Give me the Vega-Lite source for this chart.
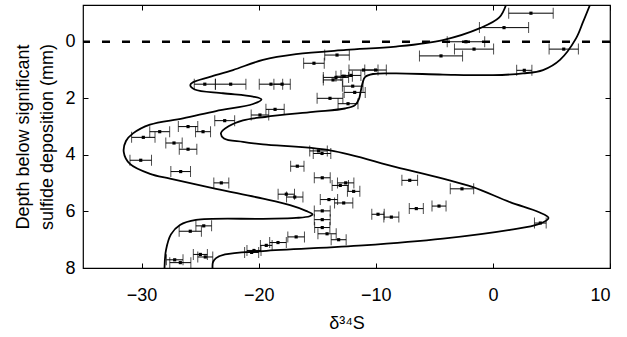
{
  "$schema": "https://vega.github.io/schema/vega-lite/v6.json",
  "width": 527,
  "height": 263,
  "autosize": "none",
  "padding": {"left": 83, "top": 5, "right": 17, "bottom": 69},
  "background": "white",
  "config": {
    "view": {"stroke": "black", "strokeWidth": 1.2},
    "font": "Liberation Sans",
    "axis": {"grid": false, "domain": false, "tickColor": "black", "tickWidth": 1, "labelColor": "black", "titleColor": "black", "labelFont": "Liberation Sans", "titleFont": "Liberation Sans", "labelFontSize": 18, "titleFontSize": 18, "titleFontWeight": "normal"}
  },
  "datasets": {
    "env": [
      {"c": "a", "o": 1, "x": 1.12, "y": -1.3},
      {"c": "a", "o": 2, "x": 0.55, "y": -0.86},
      {"c": "a", "o": 3, "x": -1.10, "y": -0.48},
      {"c": "a", "o": 4, "x": -4.26, "y": -0.06},
      {"c": "a", "o": 5, "x": -8.27, "y": 0.17},
      {"c": "a", "o": 6, "x": -12.54, "y": 0.29},
      {"c": "a", "o": 7, "x": -16.81, "y": 0.44},
      {"c": "a", "o": 8, "x": -19.63, "y": 0.64},
      {"c": "a", "o": 9, "x": -22.19, "y": 1.0},
      {"c": "a", "o": 10, "x": -24.16, "y": 1.24},
      {"c": "a", "o": 11, "x": -25.61, "y": 1.43},
      {"c": "a", "o": 12, "x": -25.84, "y": 1.53},
      {"c": "a", "o": 13, "x": -25.46, "y": 1.69},
      {"c": "a", "o": 14, "x": -23.05, "y": 1.82},
      {"c": "a", "o": 15, "x": -20.48, "y": 1.94},
      {"c": "a", "o": 16, "x": -19.76, "y": 2.04},
      {"c": "a", "o": 17, "x": -20.48, "y": 2.20},
      {"c": "a", "o": 18, "x": -23.64, "y": 2.45},
      {"c": "a", "o": 19, "x": -26.46, "y": 2.71},
      {"c": "a", "o": 20, "x": -29.28, "y": 2.93},
      {"c": "a", "o": 21, "x": -30.73, "y": 3.24},
      {"c": "a", "o": 22, "x": -31.33, "y": 3.51},
      {"c": "a", "o": 23, "x": -31.52, "y": 3.90},
      {"c": "a", "o": 24, "x": -30.99, "y": 4.32},
      {"c": "a", "o": 25, "x": -29.28, "y": 4.67},
      {"c": "a", "o": 26, "x": -27.57, "y": 4.84},
      {"c": "a", "o": 27, "x": -23.64, "y": 5.20},
      {"c": "a", "o": 28, "x": -19.63, "y": 5.55},
      {"c": "a", "o": 29, "x": -17.32, "y": 5.78},
      {"c": "a", "o": 30, "x": -15.96, "y": 5.98},
      {"c": "a", "o": 31, "x": -15.4, "y": 6.10},
      {"c": "a", "o": 32, "x": -15.64, "y": 6.17},
      {"c": "a", "o": 33, "x": -16.81, "y": 6.23},
      {"c": "a", "o": 34, "x": -19.63, "y": 6.26},
      {"c": "a", "o": 35, "x": -25.35, "y": 6.30},
      {"c": "a", "o": 36, "x": -26.72, "y": 6.48},
      {"c": "a", "o": 37, "x": -27.49, "y": 6.81},
      {"c": "a", "o": 38, "x": -27.91, "y": 7.36},
      {"c": "a", "o": 39, "x": -28.04, "y": 8.0},
      {"c": "b", "o": 1, "x": 8.29, "y": -1.3},
      {"c": "b", "o": 2, "x": 7.70, "y": -0.70},
      {"c": "b", "o": 3, "x": 7.10, "y": -0.12},
      {"c": "b", "o": 4, "x": 5.73, "y": 0.64},
      {"c": "b", "o": 5, "x": 4.28, "y": 1.0},
      {"c": "b", "o": 6, "x": 2.57, "y": 1.12},
      {"c": "b", "o": 7, "x": 0.01, "y": 1.18},
      {"c": "b", "o": 8, "x": -4.26, "y": 1.16},
      {"c": "b", "o": 9, "x": -8.27, "y": 1.12},
      {"c": "b", "o": 10, "x": -10.24, "y": 1.14},
      {"c": "b", "o": 11, "x": -10.92, "y": 1.25},
      {"c": "b", "o": 12, "x": -11.13, "y": 1.46},
      {"c": "b", "o": 13, "x": -11.3, "y": 1.78},
      {"c": "b", "o": 14, "x": -11.43, "y": 2.02},
      {"c": "b", "o": 15, "x": -11.77, "y": 2.24},
      {"c": "b", "o": 16, "x": -12.63, "y": 2.36},
      {"c": "b", "o": 17, "x": -15.36, "y": 2.48},
      {"c": "b", "o": 18, "x": -19.46, "y": 2.66},
      {"c": "b", "o": 19, "x": -21.34, "y": 2.78},
      {"c": "b", "o": 20, "x": -22.53, "y": 2.98},
      {"c": "b", "o": 21, "x": -23.22, "y": 3.23},
      {"c": "b", "o": 22, "x": -22.96, "y": 3.42},
      {"c": "b", "o": 23, "x": -21.34, "y": 3.54},
      {"c": "b", "o": 24, "x": -19.63, "y": 3.63},
      {"c": "b", "o": 25, "x": -13.91, "y": 3.84},
      {"c": "b", "o": 26, "x": -8.27, "y": 4.43},
      {"c": "b", "o": 27, "x": -4.26, "y": 4.84},
      {"c": "b", "o": 28, "x": -1.70, "y": 5.14},
      {"c": "b", "o": 29, "x": 1.46, "y": 5.67},
      {"c": "b", "o": 30, "x": 3.9, "y": 6.02},
      {"c": "b", "o": 31, "x": 4.75, "y": 6.23},
      {"c": "b", "o": 32, "x": 3.9, "y": 6.45},
      {"c": "b", "o": 33, "x": 1.46, "y": 6.65},
      {"c": "b", "o": 34, "x": -4.26, "y": 6.96},
      {"c": "b", "o": 35, "x": -11.09, "y": 7.20},
      {"c": "b", "o": 36, "x": -19.63, "y": 7.40},
      {"c": "b", "o": 37, "x": -22.87, "y": 7.52},
      {"c": "b", "o": 38, "x": -23.64, "y": 7.65},
      {"c": "b", "o": 39, "x": -23.9, "y": 7.79},
      {"c": "b", "o": 40, "x": -23.94, "y": 8.0}
    ],
    "pts": [
      {"x": 3.25, "lo": 1.35, "hi": 5.15, "y": -1.01},
      {"x": 0.95, "lo": -1.15, "hi": 3.05, "y": -0.50},
      {"x": -2.3, "lo": -3.9, "hi": -0.7, "y": 0.0},
      {"x": -1.61, "lo": -3.28, "hi": 0.06, "y": 0.26},
      {"x": -4.43, "lo": -6.27, "hi": -2.59, "y": 0.50},
      {"x": 6.05, "lo": 4.8, "hi": 7.3, "y": 0.26},
      {"x": 2.68, "lo": 2.03, "hi": 3.33, "y": 1.01},
      {"x": -13.31, "lo": -14.36, "hi": -12.26, "y": 0.47},
      {"x": -15.28, "lo": -16.16, "hi": -14.4, "y": 0.76},
      {"x": -11.05, "lo": -12.29, "hi": -9.81, "y": 1.0},
      {"x": -10.02, "lo": -10.94, "hi": -9.1, "y": 1.0},
      {"x": -12.12, "lo": -12.97, "hi": -11.27, "y": 1.19},
      {"x": -13.4, "lo": -14.48, "hi": -12.32, "y": 1.26},
      {"x": -13.65, "lo": -14.48, "hi": -12.82, "y": 1.35},
      {"x": -12.7, "lo": -13.4, "hi": -12.0, "y": 1.22},
      {"x": -11.97, "lo": -12.85, "hi": -11.09, "y": 1.57},
      {"x": -11.8, "lo": -12.7, "hi": -10.9, "y": 1.79},
      {"x": -13.91, "lo": -15.01, "hi": -12.81, "y": 2.0},
      {"x": -12.37, "lo": -13.22, "hi": -11.52, "y": 2.19},
      {"x": -24.6, "lo": -25.5, "hi": -23.7, "y": 1.50},
      {"x": -22.39, "lo": -23.69, "hi": -21.09, "y": 1.50},
      {"x": -18.95, "lo": -19.95, "hi": -17.95, "y": 1.50},
      {"x": -18.0, "lo": -18.7, "hi": -17.3, "y": 1.50},
      {"x": -22.9, "lo": -23.75, "hi": -22.05, "y": 2.79},
      {"x": -26.03, "lo": -26.86, "hi": -25.2, "y": 3.0},
      {"x": -24.75, "lo": -25.39, "hi": -24.11, "y": 3.18},
      {"x": -28.45, "lo": -29.3, "hi": -27.6, "y": 3.18},
      {"x": -19.89, "lo": -20.64, "hi": -19.14, "y": 2.59},
      {"x": -18.6, "lo": -19.38, "hi": -17.82, "y": 2.39},
      {"x": -29.85, "lo": -30.85, "hi": -28.85, "y": 3.38},
      {"x": -27.23, "lo": -27.93, "hi": -26.53, "y": 3.58},
      {"x": -26.03, "lo": -26.78, "hi": -25.28, "y": 3.80},
      {"x": -30.07, "lo": -30.99, "hi": -29.15, "y": 4.19},
      {"x": -26.66, "lo": -27.5, "hi": -25.82, "y": 4.59},
      {"x": -23.19, "lo": -23.83, "hi": -22.55, "y": 4.99},
      {"x": -25.84, "lo": -26.79, "hi": -24.89, "y": 6.70},
      {"x": -24.69, "lo": -25.36, "hi": -24.02, "y": 6.51},
      {"x": -27.17, "lo": -27.88, "hi": -26.46, "y": 7.71},
      {"x": -26.69, "lo": -27.59, "hi": -25.79, "y": 7.81},
      {"x": -24.98, "lo": -25.58, "hi": -24.38, "y": 7.52},
      {"x": -24.56, "lo": -25.2, "hi": -23.92, "y": 7.61},
      {"x": -20.4, "lo": -21.0, "hi": -19.8, "y": 7.38},
      {"x": -20.6, "lo": -21.2, "hi": -20.0, "y": 7.45},
      {"x": -14.89, "lo": -15.64, "hi": -14.14, "y": 3.86},
      {"x": -14.59, "lo": -15.34, "hi": -13.84, "y": 3.95},
      {"x": -16.7, "lo": -17.27, "hi": -16.13, "y": 4.40},
      {"x": -14.57, "lo": -15.25, "hi": -13.89, "y": 4.81},
      {"x": -13.03, "lo": -13.73, "hi": -12.33, "y": 5.08},
      {"x": -12.57, "lo": -13.27, "hi": -11.87, "y": 4.99},
      {"x": -11.89, "lo": -12.42, "hi": -11.36, "y": 5.29},
      {"x": -17.64, "lo": -18.34, "hi": -16.94, "y": 5.39},
      {"x": -16.92, "lo": -17.62, "hi": -16.22, "y": 5.49},
      {"x": -14.0, "lo": -14.74, "hi": -13.26, "y": 5.58},
      {"x": -12.74, "lo": -13.52, "hi": -11.96, "y": 5.70},
      {"x": -14.57, "lo": -15.25, "hi": -13.89, "y": 5.98},
      {"x": -14.57, "lo": -15.25, "hi": -13.89, "y": 6.29},
      {"x": -14.57, "lo": -15.22, "hi": -13.92, "y": 6.57},
      {"x": -14.16, "lo": -14.94, "hi": -13.38, "y": 6.79},
      {"x": -13.17, "lo": -13.81, "hi": -12.53, "y": 7.0},
      {"x": -16.8, "lo": -17.51, "hi": -16.09, "y": 6.90},
      {"x": -18.35, "lo": -19.06, "hi": -17.64, "y": 7.10},
      {"x": -19.35, "lo": -19.85, "hi": -18.85, "y": 7.20},
      {"x": -9.81, "lo": -10.34, "hi": -9.28, "y": 6.10},
      {"x": -8.67, "lo": -9.31, "hi": -8.03, "y": 6.20},
      {"x": -6.54, "lo": -7.14, "hi": -5.94, "y": 5.90},
      {"x": -4.6, "lo": -5.2, "hi": -4.0, "y": 5.81},
      {"x": -7.1, "lo": -7.77, "hi": -6.43, "y": 4.90},
      {"x": -2.64, "lo": -3.64, "hi": -1.64, "y": 5.20},
      {"x": 4.05, "lo": 3.55, "hi": 4.55, "y": 6.41}
    ]
  },
  "layer": [
    {
      "data": {"name": "env"},
      "mark": {"type": "line", "interpolate": "catmull-rom", "color": "black", "strokeWidth": 1.8, "clip": true},
      "encoding": {
        "x": {"field": "x", "type": "quantitative", "scale": {"domain": [-35, 10], "nice": false, "zero": false},
              "axis": {"orient": "bottom", "values": [-30, -20, -10, 0, 10], "tickSize": -5, "labelPadding": 23, "title": "δ³⁴S", "titlePadding": 10}},
        "y": {"field": "y", "type": "quantitative", "scale": {"domain": [-1.3, 8], "nice": false, "zero": false, "reverse": true},
              "axis": {"orient": "left", "values": [0, 2, 4, 6, 8], "tickSize": -5, "labelPadding": 13, "title": ["Depth below significant", "sulfide deposition (mm)"], "titlePadding": 8, "titleLineHeight": 24}},
        "order": {"field": "o", "type": "quantitative"},
        "detail": {"field": "c"}
      }
    },
    {
      "data": {"name": "pts"},
      "mark": {"type": "rule", "color": "black", "strokeWidth": 1},
      "encoding": {
        "x": {"field": "lo", "type": "quantitative", "axis": {"orient": "top", "values": [-30, -20, -10, 0, 10], "tickSize": -5, "labels": false, "title": null}},
        "x2": {"field": "hi"},
        "y": {"field": "y", "type": "quantitative", "axis": {"orient": "right", "values": [0, 2, 4, 6, 8], "tickSize": -5, "labels": false, "title": null}}
      }
    },
    {
      "data": {"name": "pts"},
      "mark": {"type": "tick", "orient": "vertical", "size": 11, "thickness": 1, "color": "black"},
      "encoding": {
        "x": {"field": "lo", "type": "quantitative", "axis": null},
        "y": {"field": "y", "type": "quantitative", "axis": null}
      }
    },
    {
      "data": {"name": "pts"},
      "mark": {"type": "tick", "orient": "vertical", "size": 11, "thickness": 1, "color": "black"},
      "encoding": {
        "x": {"field": "hi", "type": "quantitative", "axis": null},
        "y": {"field": "y", "type": "quantitative", "axis": null}
      }
    },
    {
      "data": {"name": "pts"},
      "mark": {"type": "square", "filled": true, "color": "black", "size": 10, "opacity": 1},
      "encoding": {
        "x": {"field": "x", "type": "quantitative", "axis": null},
        "y": {"field": "y", "type": "quantitative", "axis": null}
      }
    },
    {
      "data": {"values": [{"d": 0}]},
      "mark": {"type": "rule", "color": "black", "strokeWidth": 2.5, "strokeDash": [8, 12]},
      "encoding": {
        "y": {"field": "d", "type": "quantitative", "axis": null}
      }
    }
  ]
}
